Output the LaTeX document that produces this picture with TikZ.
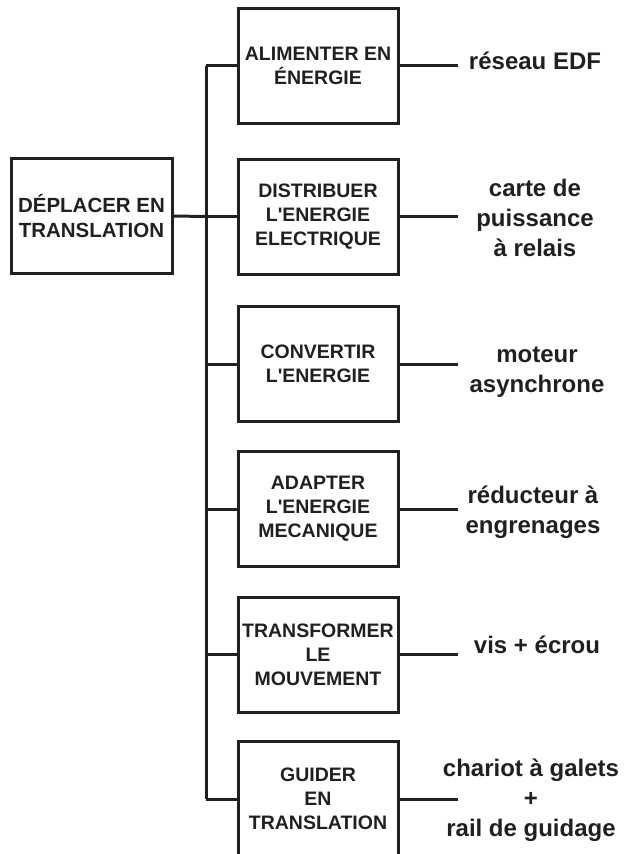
\documentclass[tikz,border=0pt]{standalone}
\usepackage{fontspec}
\setmainfont{Liberation Sans}[Ligatures=TeXOff]
\definecolor{ink}{HTML}{231F20}
\begin{document}
\begin{tikzpicture}[x=1pt,y=-1pt,
  line width=3pt, draw=ink, text=ink,
  fbox/.style={draw=ink, line width=3pt, minimum width=160pt, minimum height=115pt,
    align=center, inner sep=0pt, font=\bfseries\fontsize{19.5}{24}\selectfont},
  mainbox/.style={fbox, minimum width=161pt, font=\bfseries\fontsize{20.5}{25.5}\selectfont},
  sol/.style={align=center, inner sep=0pt, font=\bfseries\fontsize{24}{30}\selectfont},
  wire/.style={draw=ink, line width=3pt}]
\useasboundingbox (0,0) rectangle (626,854);
\node[mainbox] (m) at (91.5,216) {DÉPLACER EN\\TRANSLATION};
\node[fbox] (b1) at (318,65.5) {ALIMENTER EN\\ÉNERGIE};
\node[fbox] (b2) at (318,216.5) {DISTRIBUER\\L'ENERGIE\\ELECTRIQUE};
\node[fbox] (b3) at (318,364) {CONVERTIR\\L'ENERGIE};
\node[fbox] (b4) at (318,509) {ADAPTER\\L'ENERGIE\\MECANIQUE};
\node[fbox] (b5) at (318,654.5) {TRANSFORMER\\LE\\MOUVEMENT};
\node[fbox] (b6) at (318,799) {GUIDER\\EN\\TRANSLATION};
\coordinate (bus) at (206,0);
\node[sol] (s1) at (535,61) {réseau EDF};
\node[sol] (s2) at (535,218) {carte de\\puissance\\à relais};
\node[sol] (s3) at (537,372) {moteur\\asynchrone};
\node[sol] (s4) at (533,512) {réducteur à\\engrenages};
\node[sol] (s5) at (537,645) {vis + écrou};
\node[sol] (s6) at (531,800) {chariot à galets\\+\\rail de guidage};
\foreach \i in {1,...,6}{
  \coordinate (e\i) at ([xshift=58pt]b\i.east);
  \draw[wire] (b\i.east) -- (e\i);
  \draw[wire] (b\i.west) -- (b\i.west -| bus);
}
\draw[wire] (b1.west -| bus) -- (b6.west -| bus);
\draw[wire] (m.east) -- (b2.west -| bus);
\end{tikzpicture}
\end{document}
